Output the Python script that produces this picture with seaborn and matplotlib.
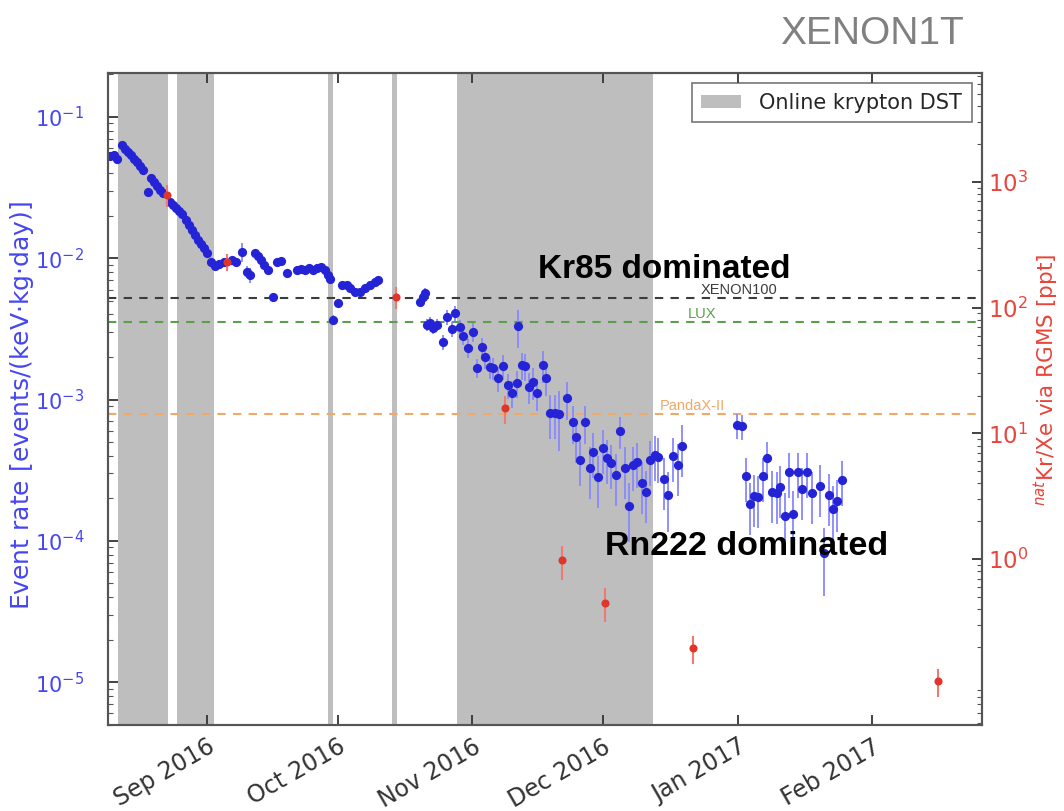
import numpy as np
import pandas as pd
import matplotlib
matplotlib.use("Agg")
import matplotlib.pyplot as plt
import matplotlib.dates as mdates
import matplotlib.ticker as mticker
from matplotlib.patches import Patch
import seaborn as sns

# ---------------------------------------------------------------- data
BASE_DATE = "2016-08-01"

# Electronic-recoil event rate [events/(keV kg day)], sampled in days since BASE_DATE
rate_days = [
    8.7, 9.6, 10.3, 11.5, 12.1, 12.8, 13.5, 14.2, 14.9, 15.6, 16.3, 17.4, 18.1, 18.8,
    19.5, 20.2, 20.9, 22.5, 23.2, 23.9, 24.6, 25.3, 26.2, 26.9, 27.6, 28.2, 28.9, 29.6,
    30.3, 31.0, 31.9, 32.8, 33.8, 34.9, 36.7, 37.7, 39.0, 40.2, 40.9, 42.0, 42.7, 43.4,
    44.1, 45.0, 46.2, 47.1, 48.0, 49.4, 51.7, 52.6, 53.5, 54.4, 55.4, 56.3, 57.2, 58.1,
    58.8, 59.3, 60.0, 61.1, 62.0, 63.2, 63.9, 65.0, 66.2, 67.3, 68.5, 69.6, 70.3,
    80.0, 80.7, 81.1, 81.6, 82.3, 83.0, 83.9, 85.3, 86.2, 87.3, 88.0, 89.2, 89.9,
    91.0, 92.2, 93.1, 94.2, 94.9, 96.1, 96.8, 97.9, 99.1, 100.2, 101.1, 102.3, 102.5,
    103.4, 104.1, 105.0, 106.0, 106.9, 108.2, 108.9, 109.9, 111.0, 111.9, 113.8, 115.1,
    115.8, 116.8, 117.9, 119.1, 119.7, 120.9, 122.0, 123.0, 123.9, 125.0, 126.0, 127.1,
    128.0, 128.9, 129.9, 131.0, 131.9, 132.8, 134.0, 134.7, 136.1, 137.0, 138.1, 139.3,
    140.2, 152.8, 154.0, 154.9, 155.8, 156.8, 157.7, 158.8, 159.7, 160.9, 162.0, 162.7,
    163.9, 164.8, 165.7, 166.9, 167.8, 168.9, 170.1, 171.9, 172.8, 174.0, 174.9, 175.8,
    177.0,
]
rate_values = [
    0.0530, 0.0538, 0.0505, 0.0634, 0.0594, 0.0565, 0.0538, 0.0505, 0.0481, 0.0450,
    0.0422, 0.0294, 0.0370, 0.0347, 0.0325, 0.0304, 0.0290, 0.0250, 0.0238, 0.0227,
    0.0216, 0.0206, 0.0187, 0.0172, 0.0158, 0.0146, 0.0135, 0.0126, 0.0118, 0.0109,
    0.00942, 0.00883, 0.00912, 0.00942, 0.00973, 0.00942, 0.0111, 0.00800, 0.00762,
    0.0109, 0.0104, 0.00973, 0.00897, 0.00826, 0.00532, 0.00942, 0.00957, 0.00787,
    0.00826, 0.00840, 0.00826, 0.00853, 0.00826, 0.00853, 0.00867, 0.00826, 0.00762,
    0.00714, 0.00366, 0.00483, 0.00647, 0.00647, 0.00616, 0.00578, 0.00578, 0.00616,
    0.00647, 0.00680, 0.00702,
    0.00491, 0.00532, 0.00568, 0.00337, 0.00348, 0.00321, 0.00337, 0.00256, 0.00385,
    0.00316, 0.00410, 0.00327, 0.00282, 0.00232, 0.00301, 0.00167, 0.00236, 0.00200,
    0.00170, 0.00167, 0.00142, 0.00173, 0.00127, 0.00111, 0.00131, 0.00332, 0.00176,
    0.00173, 0.00123, 0.00133, 0.00111, 0.00176, 0.00142, 0.000803, 0.000803, 0.000791,
    0.00103, 0.000694, 0.000543, 0.000374, 0.000694, 0.000328, 0.000426, 0.000283,
    0.000454, 0.000386, 0.000356, 0.000292, 0.000600, 0.000328, 0.000177, 0.000344,
    0.000362, 0.000257, 0.000222, 0.000374, 0.000406, 0.000393, 0.000274, 0.000211,
    0.000399, 0.000344, 0.000470,
    0.000661, 0.000650, 0.000288, 0.000182, 0.000208, 0.000205, 0.000288, 0.000386,
    0.000222, 0.000218, 0.000241, 0.000150, 0.000308, 0.000155, 0.000308, 0.000233,
    0.000308, 0.000218, 0.000245, 0.0000820, 0.000211, 0.000168, 0.000191, 0.000270,
]
# relative 1-sigma uncertainty of each rate point
rate_relerr = [
    0.03, 0.03, 0.03, 0.03, 0.03, 0.03, 0.03, 0.03, 0.03, 0.03, 0.03, 0.03, 0.03, 0.03,
    0.03, 0.03, 0.03, 0.03, 0.03, 0.03, 0.03, 0.03, 0.03, 0.03, 0.03, 0.03, 0.03, 0.03,
    0.03, 0.03, 0.04, 0.04, 0.04, 0.05, 0.05, 0.05, 0.15, 0.10, 0.12, 0.05, 0.05, 0.05,
    0.05, 0.05, 0.05, 0.05, 0.05, 0.05, 0.04, 0.04, 0.04, 0.04, 0.04, 0.04, 0.04, 0.04,
    0.04, 0.05, 0.08, 0.06, 0.05, 0.05, 0.05, 0.05, 0.05, 0.05, 0.05, 0.05, 0.05,
    0.08, 0.08, 0.08, 0.10, 0.10, 0.10, 0.10, 0.12, 0.12, 0.12, 0.12, 0.12, 0.14,
    0.15, 0.15, 0.15, 0.15, 0.18, 0.18, 0.18, 0.20, 0.20, 0.20, 0.22, 0.22, 0.30,
    0.22, 0.22, 0.25, 0.25, 0.25, 0.25, 0.25, 0.35, 0.35, 0.45, 0.30, 0.30,
    0.35, 0.35, 0.30, 0.40, 0.35, 0.40, 0.35, 0.35, 0.35, 0.40, 0.25, 0.40,
    0.45, 0.35, 0.35, 0.40, 0.40, 0.35, 0.35, 0.35, 0.40, 0.45, 0.35, 0.40,
    0.40, 0.20, 0.20, 0.35, 0.40, 0.40, 0.40, 0.35, 0.30, 0.40, 0.40, 0.40,
    0.45, 0.35, 0.45, 0.35, 0.40, 0.35, 0.40, 0.40, 0.50, 0.40, 0.45, 0.40,
    0.35,
]

# natKr/Xe concentration measured with RGMS [ppt]
rgms_days = [21.8, 35.6, 74.5, 99.5, 112.6, 122.5, 142.7, 199.1]
rgms_ppt = [789, 231, 122, 15.9, 0.98, 0.45, 0.196, 0.107]
rgms_relerr = [0.20, 0.15, 0.20, 0.25, 0.30, 0.30, 0.25, 0.25]

# online krypton distillation periods (start, end), days since BASE_DATE
dst_periods = [(10.5, 22.0), (24.1, 32.6), (58.8, 60.0), (73.5, 74.7), (88.5, 133.5)]

# background levels of other experiments
ref_names = ["XENON100", "LUX", "PandaX-II"]
ref_levels = [5.24e-3, 3.54e-3, 7.9e-4]
ref_label_days = [144.5, 141.5, 135.0]

# right-axis decades that carry a label
rgms_ticks = [1, 10, 100, 1000]

# ---------------------------------------------------------------- styling
BLUE = "#2424d6"
BLUE_ERR = "#8888ff"
BLUE_TXT = "#4646f2"
RED = "#e0352b"
RED_TXT = "#e8453c"
GRAY_BAND = "#bebebe"
SPINE = "#555555"
ref_colors = ["#3c3c3c", "#5aa04a", "#f2a866"]

sns.set_style("ticks")
plt.rcParams["font.family"] = ["DejaVu Sans"]
plt.rcParams["mathtext.fontset"] = "dejavusans"
plt.rcParams["axes.unicode_minus"] = False

base = pd.Timestamp(BASE_DATE)


def to_dates(days):
    return base + pd.to_timedelta(np.asarray(days, dtype=float), unit="D")


rate_df = pd.DataFrame({
    "date": to_dates(rate_days),
    "rate": rate_values,
    "err": np.asarray(rate_values) * np.asarray(rate_relerr),
})
rgms_df = pd.DataFrame({
    "date": to_dates(rgms_days),
    "ppt": rgms_ppt,
    "err": np.asarray(rgms_ppt) * np.asarray(rgms_relerr),
})

fig = plt.figure(figsize=(10.64, 8.11), dpi=100)
ax = fig.add_axes([0.1015, 0.106, 0.8215, 0.804])
ax2 = ax.twinx()

# distillation periods
for start, end in dst_periods:
    ax.axvspan(to_dates([start])[0], to_dates([end])[0], color=GRAY_BAND, lw=0, zorder=0)

# reference experiment levels
for name, lvl, col, dlab in zip(ref_names, ref_levels, ref_colors, ref_label_days):
    ax.axhline(lvl, color=col, lw=1.5, dashes=(4, 3.5), zorder=1)
    ax.text(to_dates([dlab])[0], lvl * 1.01, name, color=col, fontsize=10.5,
            ha="left", va="bottom", zorder=2, family=["Liberation Sans"])

# event rate
ax.errorbar(rate_df["date"], rate_df["rate"], yerr=rate_df["err"], fmt="none",
            ecolor=BLUE_ERR, elinewidth=1.3, capsize=0, zorder=3)
sns.scatterplot(data=rate_df, x="date", y="rate", ax=ax, color=BLUE, s=44,
                linewidth=0, zorder=4, legend=False)

# RGMS measurements
ax2.errorbar(rgms_df["date"], rgms_df["ppt"], yerr=rgms_df["err"], fmt="none",
             ecolor="#f07a72", elinewidth=1.5, capsize=0, zorder=3)
sns.scatterplot(data=rgms_df, x="date", y="ppt", ax=ax2, color=RED, s=34,
                linewidth=0, zorder=4, legend=False)

# axes scales and ranges
ax.set_yscale("log")
ax2.set_yscale("log")
ax.set_ylim(4.97e-6, 0.2047)
ax2.set_ylim(0.0478, 7360)
ax.set_xlim(to_dates([8.2])[0], to_dates([209.2])[0])

ax.xaxis.set_major_locator(mdates.MonthLocator(bymonthday=1))
ax.xaxis.set_major_formatter(mdates.DateFormatter("%b %Y"))
ax.xaxis.set_minor_locator(mticker.NullLocator())

ax.yaxis.set_major_locator(mticker.LogLocator(base=10, numticks=12))
ax2.yaxis.set_major_locator(mticker.FixedLocator(rgms_ticks))
for a in (ax, ax2):
    a.yaxis.set_minor_locator(mticker.LogLocator(base=10, subs=np.arange(2, 10), numticks=12))
    a.yaxis.set_minor_formatter(mticker.NullFormatter())
    for s in a.spines.values():
        s.set_color(SPINE)
        s.set_linewidth(1.5)
ax.yaxis.set_major_formatter(mticker.LogFormatterSciNotation())
ax2.yaxis.set_major_formatter(mticker.LogFormatterSciNotation())

ax.tick_params(axis="x", which="major", direction="in", top=True, length=7, width=1.3,
               color="#333333", labelsize=17, labelcolor="#333333", pad=7)
ax.tick_params(axis="y", which="major", direction="in", length=7, width=1.3,
               color="#333333", labelsize=15, labelcolor=BLUE_TXT, pad=17)
ax.tick_params(axis="y", which="minor", direction="in", length=3.5, width=0.8, color="#555555")
ax2.tick_params(axis="y", which="major", direction="in", length=7, width=1.3,
                color="#333333", labelsize=16.5, labelcolor=RED_TXT, pad=4)
ax2.tick_params(axis="y", which="minor", direction="in", length=3.5, width=0.8, color="#555555")

for lab in ax.get_xticklabels():
    lab.set_rotation(30)
    lab.set_ha("right")
    lab.set_rotation_mode("anchor")

ax.set_xlabel("")
ax.set_ylabel("Event rate [events/(keV$\\cdot$kg$\\cdot$day)]", color=BLUE_TXT, fontsize=18)
ax.yaxis.set_label_coords(-0.082, 0.49)
ax2.set_ylabel("$^{nat}$Kr/Xe via RGMS [ppt]", color=RED_TXT, fontsize=15.5, rotation=90)
ax2.yaxis.set_label_coords(1.057, 0.53)

# legend
handles = [Patch(facecolor=GRAY_BAND, edgecolor="none", label="Online krypton DST")]
leg = ax2.legend(handles=handles, loc="upper right", fontsize=15, frameon=True,
                 fancybox=False, edgecolor="#555555", borderaxespad=0.5,
                 handlelength=1.9, handleheight=0.6, handletextpad=0.9,
                 borderpad=0.45)
leg.get_frame().set_linewidth(1.2)

# regime annotations
ax2.text(0.636, 0.698, "Kr85 dominated", transform=ax.transAxes, fontsize=24,
         fontweight="bold", ha="center", va="center", color="black", zorder=10,
         family=["Liberation Sans"])
ax2.text(0.730, 0.2745, "Rn222 dominated", transform=ax.transAxes, fontsize=24.5,
         fontweight="bold", ha="center", va="center", color="black", zorder=10,
         family=["Liberation Sans"])

# experiment tag
fig.text(0.820, 0.958, "XENON1T", fontsize=28, color="#808080", ha="center",
         va="center", family=["Liberation Sans"])

fig.savefig("out.png", dpi=100)
